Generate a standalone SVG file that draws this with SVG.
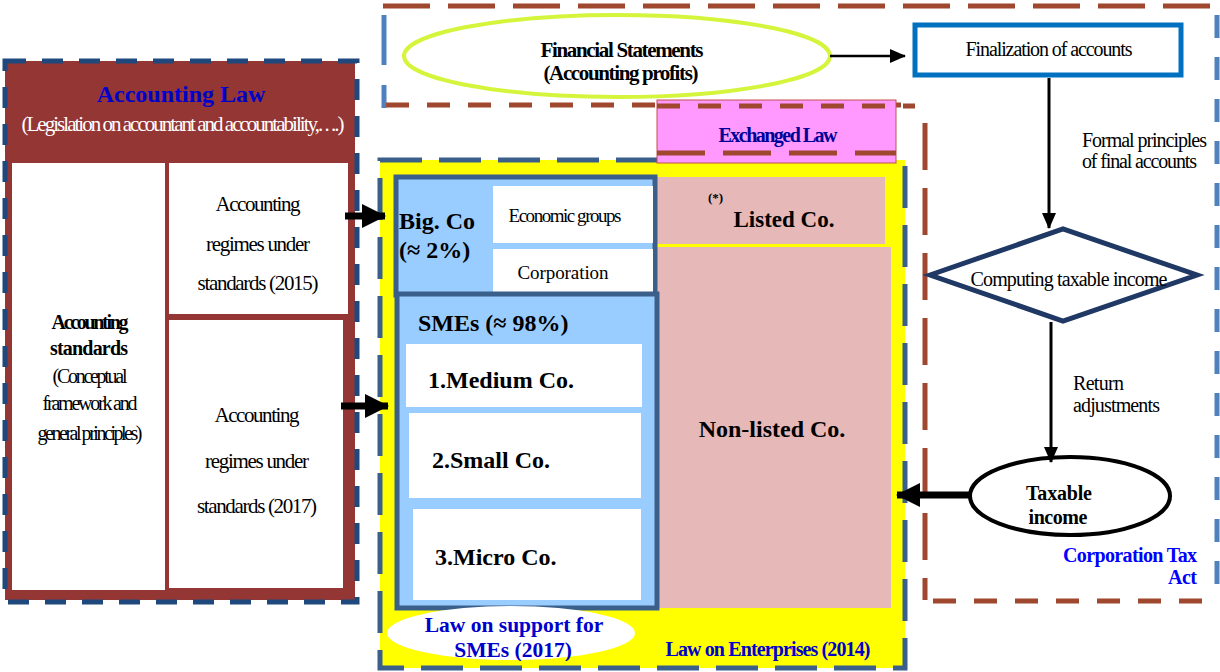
<svg xmlns="http://www.w3.org/2000/svg" width="1220" height="672" viewBox="0 0 1220 672" font-family="'Liberation Serif', 'Times New Roman', serif">
  <defs>
    <style>
      text { font-family: "Liberation Serif", "Times New Roman", serif; fill: #000; }
      .b { font-weight: bold; }
      .c { text-anchor: middle; }
      .r { text-anchor: end; }
      .blue { fill: #0000cc; }
      .brownDashL { fill: none; stroke: #a0472f; stroke-width: 5; stroke-dasharray: 47 18; }
      .brownDashS { fill: none; stroke: #a0472f; stroke-width: 5; stroke-dasharray: 23 18; }
      .skyDash { fill: none; stroke: #4f81bd; stroke-width: 5; }
      .conn { stroke: #000; fill: none; }
      .white { fill: #fff; }
      .lightblue { fill: #99ccff; stroke: #3a5f8b; stroke-width: 5; }
      .rose { fill: #e6b8b7; }
    </style>
    <marker id="head" markerUnits="userSpaceOnUse" markerWidth="16" markerHeight="14" refX="15" refY="7" orient="auto">
      <path d="M0,0 L16,7 L0,14 Z" fill="#000"/>
    </marker>
    <marker id="headBig" markerUnits="userSpaceOnUse" markerWidth="24" markerHeight="24" refX="23" refY="12" orient="auto">
      <path d="M0,0 L24,12 L0,24 Z" fill="#000"/>
    </marker>
    <clipPath id="smeClip">
      <rect x="380" y="600" width="280" height="61"/>
    </clipPath>
  </defs>

  <!-- dashed frames of the accounting-profit and corporation-tax areas -->
  <g id="frames">
    <line class="brownDashL" x1="383" y1="6" x2="1215" y2="6"/>
    <line class="skyDash" x1="384" y1="15" x2="384" y2="108" stroke-dasharray="50 20"/>
    <line class="skyDash" x1="1217" y1="15" x2="1217" y2="588" stroke-dasharray="23 19"/>
    <line class="brownDashS" x1="386" y1="105" x2="915" y2="105"/>
    <line class="brownDashL" x1="925" y1="123" x2="925" y2="600"/>
    <line class="brownDashS" x1="933" y1="601" x2="1208" y2="601"/>
  </g>

  <!-- Accounting Law block -->
  <g id="accounting-law">
    <rect x="5" y="61" width="350" height="539" fill="#943634"/>
    <rect x="5" y="61" width="352" height="541" fill="none" stroke="#1f497d" stroke-width="5" stroke-dasharray="21 16"/>
    <text class="b c blue" x="181" y="102" font-size="24">Accounting Law</text>
    <text class="c" x="183" y="131" font-size="21" style="fill:#fff" textLength="323" lengthAdjust="spacing">(Legislation on accountant and accountability,. . ..)</text>
  </g>
  <g id="accounting-standards">
    <rect x="12" y="163" width="153" height="427" class="white"/>
    <text class="b c" x="90" y="329" font-size="20" textLength="77" lengthAdjust="spacing">Accounting</text>
    <text class="b c" x="89" y="355" font-size="20" textLength="78" lengthAdjust="spacing">standards</text>
    <text class="c" x="90" y="383" font-size="20" textLength="75" lengthAdjust="spacing">(Conceptual</text>
    <text class="c" x="90" y="410" font-size="20" textLength="95" lengthAdjust="spacing">framework and</text>
    <text class="c" x="90" y="440" font-size="20" textLength="105" lengthAdjust="spacing">general principles)</text>
  </g>
  <g id="regimes-2015">
    <rect x="169" y="163" width="179" height="151" class="white"/>
    <text class="c" x="258" y="211" font-size="21" textLength="85" lengthAdjust="spacing">Accounting</text>
    <text class="c" x="258" y="251" font-size="21" textLength="104" lengthAdjust="spacing">regimes under</text>
    <text class="c" x="258" y="290" font-size="21" textLength="121" lengthAdjust="spacing">standards (2015)</text>
  </g>
  <g id="regimes-2017">
    <rect x="169" y="320" width="174" height="268" class="white"/>
    <text class="c" x="257" y="422" font-size="21" textLength="85" lengthAdjust="spacing">Accounting</text>
    <text class="c" x="257" y="468" font-size="21" textLength="104" lengthAdjust="spacing">regimes under</text>
    <text class="c" x="257" y="513" font-size="21" textLength="120" lengthAdjust="spacing">standards (2017)</text>
  </g>

  <!-- Financial statements -->
  <g id="financial-statements">
    <ellipse cx="617" cy="56" rx="213" ry="41" fill="#fff" stroke="#d4f53b" stroke-width="4"/>
    <text class="b c" x="622" y="57" font-size="21" textLength="163" lengthAdjust="spacing">Financial Statements</text>
    <text class="b c" x="621" y="80" font-size="21" textLength="155" lengthAdjust="spacing">(Accounting profits)</text>
  </g>

  <!-- Finalization of accounts -->
  <g id="finalization">
    <rect x="915" y="25" width="266" height="50" fill="#fff" stroke="#0070c0" stroke-width="5"/>
    <text class="c" x="1049" y="56" font-size="20" textLength="167" lengthAdjust="spacing">Finalization of accounts</text>
  </g>

  <!-- Computing taxable income -->
  <g id="computing">
    <polygon points="930,275 1063,229 1197,275 1063,321" fill="#fff" stroke="#1f3864" stroke-width="5" stroke-linejoin="miter"/>
    <text class="c" x="1069" y="286" font-size="20" textLength="197" lengthAdjust="spacing">Computing taxable income</text>
  </g>

  <!-- Taxable income -->
  <g id="taxable-income">
    <ellipse cx="1070" cy="496" rx="100" ry="39" fill="#fff" stroke="#000" stroke-width="4"/>
    <text class="b c" x="1059" y="500" font-size="20" textLength="66" lengthAdjust="spacing">Taxable</text>
    <text class="b c" x="1058" y="524" font-size="20" textLength="59" lengthAdjust="spacing">income</text>
  </g>

  <g id="corporation-tax-act">
    <text class="b r" x="1197" y="562" font-size="20" style="fill:#0000ff" textLength="134" lengthAdjust="spacing">Corporation Tax</text>
    <text class="b r" x="1197" y="584" font-size="20" style="fill:#0000ff" textLength="29" lengthAdjust="spacing">Act</text>
  </g>

  <!-- Law on Enterprises frame -->
  <g id="law-on-enterprises">
    <rect x="380" y="160" width="525" height="508" fill="#ffff00" stroke="#3a5f8b" stroke-width="5" stroke-dasharray="42 17"/>
    <text class="b c blue" x="768" y="656" font-size="20" textLength="205" lengthAdjust="spacing">Law on Enterprises (2014)</text>
  </g>

  <!-- Exchanged Law -->
  <g id="exchanged-law">
    <rect x="657" y="100" width="239" height="63" fill="#ff99ff" stroke="#c0504d" stroke-width="1"/>
    <line class="brownDashS" x1="657" y1="106" x2="915" y2="106"/>
    <line x1="657" y1="153" x2="896" y2="153" stroke="#a0472f" stroke-width="5" stroke-dasharray="48 18"/>
    <text class="b c" x="778" y="142" font-size="20" style="fill:#000099" textLength="119" lengthAdjust="spacing">Exchanged Law</text>
  </g>

  <!-- Listed companies -->
  <g id="listed-co">
    <rect x="657" y="177" width="228" height="67" class="rose"/>
    <text class="b" x="708" y="202" font-size="13">(*)</text>
    <text class="b c" x="784" y="227" font-size="23">Listed Co.</text>
  </g>

  <g id="non-listed-co">
    <rect x="656" y="247" width="235" height="361" class="rose"/>
    <text class="b c" x="772" y="437" font-size="24">Non-listed Co.</text>
  </g>

  <!-- Big companies -->
  <g id="big-co">
    <rect x="396" y="177" width="259" height="118" class="lightblue"/>
    <rect x="493" y="186" width="160" height="57" class="white"/>
    <rect x="493" y="249" width="160" height="44" class="white"/>
    <text class="b" x="399" y="229" font-size="24">Big. Co</text>
    <text class="b" x="399" y="258" font-size="24">(≈ 2%)</text>
    <text class="c" x="565" y="222" font-size="19" textLength="113" lengthAdjust="spacing">Economic groups</text>
    <text class="c" x="563" y="279" font-size="19" textLength="91" lengthAdjust="spacing">Corporation</text>
  </g>

  <!-- SMEs -->
  <g id="smes">
    <rect x="397" y="294" width="260" height="314" class="lightblue"/>
    <text class="b" x="418" y="331" font-size="24">SMEs (≈ 98%)</text>
    <rect x="406" y="344" width="236" height="63" class="white"/>
    <text class="b" x="428" y="388" font-size="24">1.Medium Co.</text>
    <rect x="409" y="413" width="232" height="85" class="white"/>
    <text class="b" x="432" y="468" font-size="24">2.Small Co.</text>
    <rect x="413" y="509" width="228" height="91" class="white"/>
    <text class="b" x="435" y="565" font-size="24">3.Micro Co.</text>
  </g>

  <g id="law-on-support-smes">
    <ellipse cx="511" cy="633" rx="124" ry="27" fill="#fff"/>
    <g clip-path="url(#smeClip)">
      <text class="b c blue" x="514" y="632" font-size="21.5">Law on support for</text>
      <text class="b c blue" x="513" y="657" font-size="21.5">SMEs (2017)</text>
    </g>
  </g>

  <!-- connectors -->
  <g id="connectors">
    <line class="conn" x1="345" y1="216" x2="385" y2="216" stroke-width="7" marker-end="url(#headBig)"/>
    <line class="conn" x1="341" y1="406" x2="388" y2="406" stroke-width="7" marker-end="url(#headBig)"/>
    <line class="conn" x1="830" y1="56" x2="905" y2="56" stroke-width="2.5" marker-end="url(#head)"/>
    <line class="conn" x1="1049" y1="78" x2="1049" y2="228" stroke-width="3" marker-end="url(#head)"/>
    <line class="conn" x1="1051" y1="322" x2="1051" y2="462" stroke-width="3" marker-end="url(#head)"/>
    <line class="conn" x1="969" y1="495" x2="897" y2="495" stroke-width="7" marker-end="url(#headBig)"/>
    <text x="1082" y="147" font-size="20" textLength="125" lengthAdjust="spacing">Formal principles</text>
    <text x="1082" y="168" font-size="20" textLength="115" lengthAdjust="spacing">of final accounts</text>
    <text x="1073" y="390" font-size="20" textLength="51" lengthAdjust="spacing">Return</text>
    <text x="1073" y="412" font-size="20" textLength="87" lengthAdjust="spacing">adjustments</text>
  </g>
</svg>
